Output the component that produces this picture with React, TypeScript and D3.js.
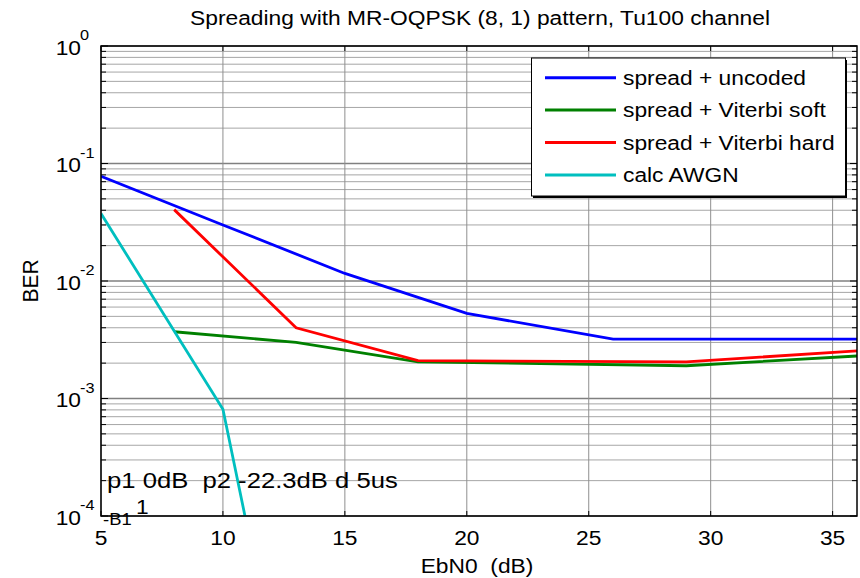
import React from "react";
import * as d3 from "d3";

const title = "Spreading with MR-OQPSK (8, 1) pattern, Tu100 channel";
const xTicks = [5, 10, 15, 20, 25, 30, 35];
const yDecades = [0, -1, -2, -3, -4];

const uncodedX = [5, 10, 15, 20, 26, 36];
const uncodedY = [0.078, 0.03, 0.0116, 0.0053, 0.0032, 0.0032];
const softX = [8, 13, 18, 29, 36];
const softY = [0.0037, 0.003, 0.00205, 0.0019, 0.0023];
const hardX = [8, 13, 18, 29, 36];
const hardY = [0.0405, 0.004, 0.0021, 0.00205, 0.00254];
const awgnX = [5, 10, 11];
const awgnY = [0.0375, 0.00081, 0.00008];

const series = [
  { name: "spread + uncoded", color: "#0000ff", xs: uncodedX, ys: uncodedY },
  { name: "spread + Viterbi soft", color: "#008000", xs: softX, ys: softY },
  { name: "spread + Viterbi hard", color: "#ff0000", xs: hardX, ys: hardY },
  { name: "calc AWGN", color: "#00bfbf", xs: awgnX, ys: awgnY },
];

const W = 860;
const H = 578;
const L = 101, R = 857, T = 46, B = 516;
const FONT = "Liberation Sans, Arial, sans-serif";

// the original figure was stretched sideways a little, so text is too
function Txt({ x, y, size = 21, sx = 1.085, anchor = "start", rot = 0, children }: any) {
  return (
    <text
      transform={`translate(${x},${y}) scale(${sx},1)${rot ? ` rotate(${rot})` : ""}`}
      fontSize={size}
      textAnchor={anchor}
      fontFamily={FONT}
      fill="#000"
      style={{ whiteSpace: "pre" }}
    >
      {children}
    </text>
  );
}

export default function App() {
  const x = d3.scaleLinear().domain([5, 36]).range([L, R]);
  const y = d3.scaleLog().domain([1e-4, 1]).range([B, T]);

  const minors: number[] = [];
  for (let e = -4; e < 0; e++) for (let m = 2; m <= 9; m++) minors.push(m * Math.pow(10, e));

  const line = d3
    .line<[number, number]>()
    .x((d) => x(d[0]))
    .y((d) => y(d[1]));

  return (
    <svg width={W} height={H} style={{ position: "absolute", left: 0, top: 0, background: "#fff" }}>
      <defs>
        <clipPath id="plot">
          <rect x={L} y={T} width={R - L} height={B - T} />
        </clipPath>
      </defs>
      <rect x={0} y={0} width={W} height={H} fill="#fff" />

      {/* grid */}
      {minors.map((v) => (
        <line key={"m" + v} x1={L} x2={R} y1={y(v)} y2={y(v)} stroke="#a6a6a6" strokeWidth={1} />
      ))}
      {yDecades.map((e) => (
        <line key={"d" + e} x1={L} x2={R} y1={y(Math.pow(10, e))} y2={y(Math.pow(10, e))} stroke="#808080" strokeWidth={1.3} />
      ))}
      {xTicks.map((t) => (
        <line key={"v" + t} x1={x(t)} x2={x(t)} y1={T} y2={B} stroke="#8f8f8f" strokeWidth={1} />
      ))}

      {/* ticks */}
      {xTicks.map((t) => (
        <g key={"xt" + t} stroke="#000" strokeWidth={1}>
          <line x1={x(t)} x2={x(t)} y1={B} y2={B - 5} />
          <line x1={x(t)} x2={x(t)} y1={T} y2={T + 5} />
        </g>
      ))}
      {minors.map((v) => (
        <g key={"yt" + v} stroke="#000" strokeWidth={1}>
          <line x1={L} x2={L + 5} y1={y(v)} y2={y(v)} />
          <line x1={R} x2={R - 5} y1={y(v)} y2={y(v)} />
        </g>
      ))}
      {yDecades.map((e) => (
        <g key={"ymt" + e} stroke="#000" strokeWidth={1}>
          <line x1={L} x2={L + 7} y1={y(Math.pow(10, e))} y2={y(Math.pow(10, e))} />
          <line x1={R} x2={R - 7} y1={y(Math.pow(10, e))} y2={y(Math.pow(10, e))} />
        </g>
      ))}

      {/* data */}
      <g clipPath="url(#plot)">
        {series.map((s) => (
          <path
            key={s.name}
            d={line(s.xs.map((v, i) => [v, s.ys[i]] as [number, number])) || ""}
            fill="none"
            stroke={s.color}
            strokeWidth={2.8}
          />
        ))}
      </g>

      {/* annotation */}
      <Txt x={107} y={488} size={22.5} sx={1.14}>p1 0dB  p2 -22.3dB d 5us</Txt>
      <Txt x={103} y={525} size={17}>-B1</Txt>
      <Txt x={136} y={514}>1</Txt>

      {/* box */}
      <rect x={L} y={T} width={R - L} height={B - T} fill="none" stroke="#000" strokeWidth={1.5} />

      {/* legend */}
      <rect x={533} y={60} width={314} height={138} fill="#000" />
      <rect x={531.5} y={58} width={314} height={138} fill="#fff" stroke="#000" strokeWidth={1} />
      {series.map((s, i) => (
        <g key={"lg" + s.name}>
          <line x1={545} x2={616} y1={77.7 + i * 32.4} y2={77.7 + i * 32.4} stroke={s.color} strokeWidth={3} />
          <Txt x={623} y={85 + i * 32.4}>{s.name}</Txt>
        </g>
      ))}

      {/* tick labels */}
      {xTicks.map((t) => (
        <Txt key={"xl" + t} x={x(t)} y={545} anchor="middle">{String(t)}</Txt>
      ))}
      {yDecades.map((e) => (
        <g key={"yl" + e}>
          <Txt x={81} y={y(Math.pow(10, e)) + 8.5} anchor="end">10</Txt>
          <Txt x={80} y={y(Math.pow(10, e)) - 6} size={15}>{String(e)}</Txt>
        </g>
      ))}

      <Txt x={480} y={25} anchor="middle">{title}</Txt>
      <Txt x={477} y={573} anchor="middle">EbN0  (dB)</Txt>
      <Txt x={37.5} y={281} anchor="middle" rot={-90}>BER</Txt>
    </svg>
  );
}
